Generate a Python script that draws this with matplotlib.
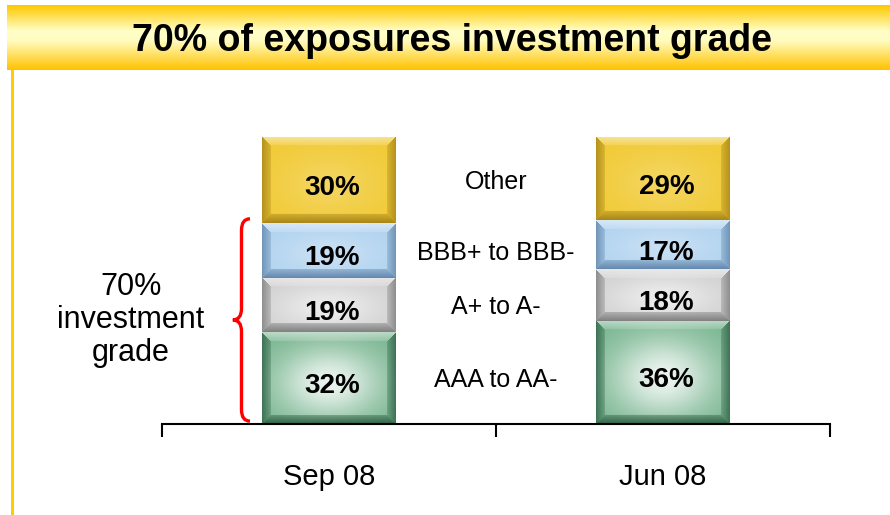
import numpy as np
import matplotlib.pyplot as plt
from matplotlib.colors import to_rgb, LinearSegmentedColormap
from matplotlib.patches import Rectangle, PathPatch
from matplotlib.path import Path

plt.rcParams['font.family'] = ['Liberation Sans', 'DejaVu Sans']

# data
periods = ['Sep 08', 'Jun 08']
grades = ['AAA to AA-', 'A+ to A-', 'BBB+ to BBB-', 'Other']
aaa_to_aa = [32, 36]
a_grade = [19, 18]
bbb_grade = [19, 17]
other = [30, 29]
investment_grade = 70

# base colour, edge colour, centre glow
styles = {
    'AAA to AA-': ('#76b48e', '#285a3e', 0.85),
    'A+ to A-': ('#d0d0d0', '#767676', 0.6),
    'BBB+ to BBB-': ('#b0d2ef', '#5a80a6', 0.3),
    'Other': ('#f1ca35', '#a07e14', 0.2),
}


def seg_image(base, edge, glow, h, w, bev=9):
    # bevelled "button" look of the slide bars
    y, x = np.mgrid[0:h, 0:w] + 0.5
    base = np.array(to_rgb(base))
    edge = np.array(to_rgb(edge))
    white = np.ones(3)
    cx = (x - w / 2) / (w / 2)
    cy = (y - h * 0.45) / (h / 2)
    g = glow * np.exp(-(1.6 * cx ** 2 + 1.6 * cy ** 2))
    img = base * (1 - g[..., None]) + white * g[..., None]
    dx = np.minimum(x, w - x)
    dt = h - y
    db = y
    top = (dt < bev) & (dt <= dx)
    bot = (db < bev) & (db < dx) & ~top
    side = (dx < bev) & ~top & ~bot
    wt = (np.clip(1 - dt / bev, 0, 1) * 0.35 + 0.15) * top
    img = img * (1 - wt[..., None]) + white * wt[..., None]
    wb = (np.clip(1 - db / bev, 0, 1) * 0.5 + 0.4) * bot
    img = img * (1 - wb[..., None]) + edge * wb[..., None]
    ws = (np.clip(1 - dx / bev, 0, 1) * 0.45 + 0.3) * side
    img = img * (1 - ws[..., None]) + edge * ws[..., None]
    return np.clip(img, 0, 1)


fig = plt.figure(figsize=(8.9, 5.15), dpi=100)
ax = fig.add_axes([162 / 890, 91 / 515, 668 / 890, 287 / 515])

x = np.arange(len(periods))
width = 0.40
series = [aaa_to_aa, a_grade, bbb_grade, other]
bottom = np.zeros(len(periods))
for name, vals in zip(grades, series):
    base, edge, glow = styles[name]
    for i, v in enumerate(vals):
        h_px = max(int(round(v * 2.87)), 4)
        img = seg_image(base, edge, glow, h_px, 135)
        ax.imshow(img, origin='lower', aspect='auto', interpolation='bilinear',
                  extent=(x[i] - width / 2, x[i] + width / 2, bottom[i], bottom[i] + v))
        ax.text(x[i] + 0.01, bottom[i] + v / 2 - 2.8, '{}%'.format(v), ha='center', va='center',
                fontsize=20, fontweight='bold', color='black')
    # category label between the bars
    ax.text(0.5, bottom[0] + vals[0] / 2 - 0.8, name, ha='center', va='center', fontsize=18)
    bottom += np.array(vals)

ax.set_xlim(-0.5, 1.5)
ax.set_ylim(0, 100)
for s in ['top', 'right', 'left']:
    ax.spines[s].set_visible(False)
ax.spines['bottom'].set_linewidth(1.5)
ax.set_yticks([])
ax.set_xticks([-0.5, 0.5, 1.5])
ax.set_xticklabels([])
ax.tick_params(axis='x', direction='out', length=9, width=1.5)
for i, p in enumerate(periods):
    ax.text(x[i], -18.5, p, ha='center', va='center', fontsize=21, clip_on=False)

# curly brace round the investment grade part
xr, xm, xl = -0.2365, -0.262, -0.288
y0, y1 = 1.0, investment_grade + 1.5
ym = (y0 + y1) / 2
d = 4
verts = [(xr, y1), (xm, y1), (xm, y1 - d), (xm, ym + d), (xm, ym), (xl, ym),
         (xm, ym), (xm, ym - d), (xm, y0 + d), (xm, y0), (xr, y0)]
codes = [Path.MOVETO, Path.CURVE3, Path.CURVE3, Path.LINETO, Path.CURVE3, Path.CURVE3,
         Path.CURVE3, Path.CURVE3, Path.LINETO, Path.CURVE3, Path.CURVE3]
ax.add_patch(PathPatch(Path(verts, codes), fill=False, edgecolor='#ff0000', lw=2.4, clip_on=False))
ax.text(-0.593, ym, '{}%\ninvestment\ngrade'.format(investment_grade), ha='center', va='center',
        fontsize=22, linespacing=1.15)

# title banner
tax = fig.add_axes([7 / 890, 1 - 70 / 515, 883 / 890, 65 / 515])
cmap = LinearSegmentedColormap.from_list('banner', [(0, '#ffc800'), (0.4, '#ffffc8'),
                                                     (0.55, '#fffcc0'), (1, '#ffc200')])
tax.imshow(np.linspace(0, 1, 100)[:, None], aspect='auto', cmap=cmap)
tax.axis('off')
fig.text(452 / 890, 1 - 41 / 515, '70% of exposures investment grade', ha='center', va='center',
         fontsize=27, fontweight='bold')

fig.add_artist(Rectangle((11 / 890, 0), 3 / 890, 445 / 515, transform=fig.transFigure,
                         color='#ffcc00', lw=0))

fig.savefig('out.png', dpi=100)
